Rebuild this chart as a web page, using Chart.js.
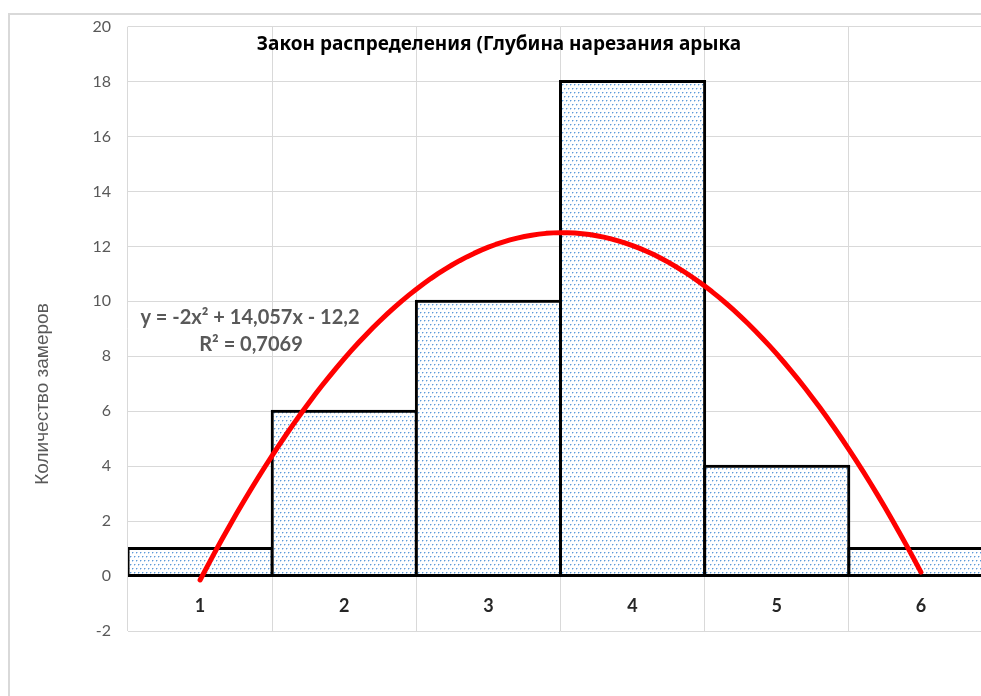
<!DOCTYPE html>
<html>
<head>
<meta charset="utf-8">
<script src="https://cdn.jsdelivr.net/npm/chart.js@4"></script>
<style>
  html, body { margin: 0; padding: 0; background: #fff; overflow: hidden; }
  #wrap { position: relative; width: 1000px; height: 700px; }
</style>
</head>
<body>
<div id="wrap"><canvas id="c" width="1000" height="700"></canvas></div>
<script>
// Histogram of measurements per depth class
const categories = ['1', '2', '3', '4', '5', '6'];
const counts = [1, 6, 10, 18, 4, 1];

// Polynomial trend y = a·x² + b·x + c and its fit quality
const trendCoefficients = [-2, 14.057, -12.2];
const rSquared = 0.7069;

// Value axis
const yRange = [-2, 20];
const yStep = 2;

const chartTitle = 'Закон распределения (Глубина нарезания арыка';
const yAxisTitle = 'Количество замеров';

// Sample the trend polynomial across the category span (x = 1 … 6)
const trendPoints = [];
for (let i = 0; i <= 100; i++) {
  const x = 1 + (categories.length - 1) * i / 100;
  const [a, b, c] = trendCoefficients;
  trendPoints.push({ x: x, y: a * x * x + b * x + c });
}

const fmt = v => String(v).replace('.', ',');
const signed = v => (v < 0 ? ' - ' : ' + ') + fmt(Math.abs(v));
const eqLine1 = 'y = ' + fmt(trendCoefficients[0]) + 'x²' + signed(trendCoefficients[1]) + 'x' + signed(trendCoefficients[2]);
const eqLine2 = 'R² = ' + fmt(rSquared);

// Dotted fill used for the bars
function dotPattern(ctx) {
  const t = document.createElement('canvas');
  t.width = 8; t.height = 8;
  const g = t.getContext('2d');
  g.fillStyle = '#ffffff';
  g.fillRect(0, 0, 8, 8);
  const dots = [[0, 0], [4, 0], [2, 4], [6, 4]];
  g.fillStyle = '#5f9bd8';
  dots.forEach(([x, y]) => g.fillRect(x, y, 1, 1));
  g.fillStyle = '#bcd6f1';
  dots.forEach(([x, y]) => { g.fillRect(x + 1, y, 1, 1); g.fillRect(x, y + 1, 1, 1); });
  return ctx.createPattern(t, 'repeat');
}

// Frame, title, axis title and trend equation
const decor = {
  id: 'decor',
  beforeDraw(chart) {
    const ctx = chart.ctx;
    ctx.save();
    ctx.strokeStyle = '#d9d9d9';
    ctx.lineWidth = 2;
    ctx.beginPath();
    ctx.moveTo(9, 800);
    ctx.lineTo(9, 14);
    ctx.lineTo(1100, 14);
    ctx.stroke();
    ctx.restore();
  },
  afterDatasetsDraw(chart) {
    const ctx = chart.ctx;
    ctx.save();
    ctx.textAlign = 'center';
    ctx.textBaseline = 'middle';

    ctx.fillStyle = '#000000';
    ctx.font = 'bold 19px "Noto Sans"';
    ctx.fillText(chartTitle, 499, 45);

    ctx.fillStyle = '#595959';
    ctx.font = 'bold 20px Lato';
    ctx.fillText(eqLine1, 250, 318);
    ctx.fillText(eqLine2, 251, 345);

    ctx.translate(43, 394);
    ctx.rotate(-Math.PI / 2);
    ctx.font = '19px "Liberation Sans"';
    ctx.fillText(yAxisTitle, 0, 0);
    ctx.restore();
  }
};

const ctx = document.getElementById('c').getContext('2d');
new Chart(ctx, {
  data: {
    labels: categories,
    datasets: [
      {
        type: 'line',
        xAxisID: 'xTrend',
        data: trendPoints,
        borderColor: '#ff0000',
        borderWidth: 5,
        borderCapStyle: 'round',
        borderJoinStyle: 'round',
        pointRadius: 0,
        tension: 0,
        order: 0
      },
      {
        type: 'bar',
        xAxisID: 'x',
        data: counts,
        backgroundColor: dotPattern(ctx),
        borderColor: '#000000',
        borderWidth: 3,
        borderSkipped: false,
        inflateAmount: 1.5,
        grouped: false,
        barPercentage: 1,
        categoryPercentage: 1,
        order: 1
      }
    ]
  },
  options: {
    responsive: false,
    animation: false,
    layout: { padding: { left: 0, right: 7, top: 25, bottom: 69 } },
    plugins: { legend: { display: false }, tooltip: { enabled: false } },
    scales: {
      x: {
        type: 'category',
        offset: true,
        position: { y: 0 },
        grid: { offset: true, color: '#d9d9d9', lineWidth: 1, drawTicks: false },
        border: { display: false },
        ticks: { padding: 19, color: '#262626', font: { family: 'Lato', size: 18, weight: 'bold' } },
        afterFit(scale) { scale.height = 0; }
      },
      xTrend: {
        type: 'linear',
        display: false,
        min: 0.5,
        max: categories.length + 0.5
      },
      y: {
        min: yRange[0],
        max: yRange[1],
        ticks: { stepSize: yStep, padding: 17, color: '#595959', font: { family: 'Lato', size: 16 } },
        grid: { color: '#d9d9d9', lineWidth: 1, drawTicks: false },
        border: { display: false },
        afterFit(scale) { scale.width = 128; }
      }
    }
  },
  plugins: [decor]
});
</script>
</body>
</html>
